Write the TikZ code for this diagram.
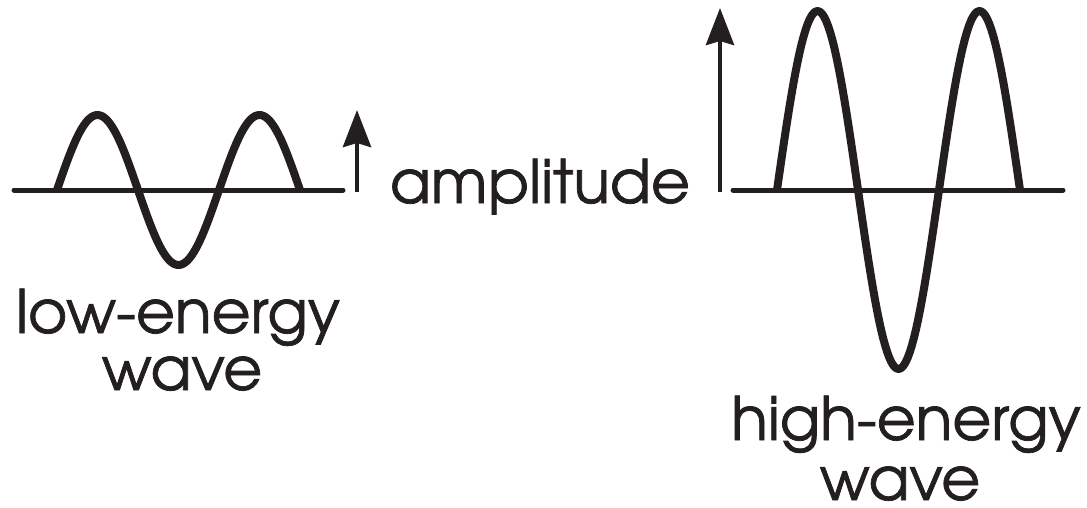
\documentclass[tikz,border=0pt]{standalone}
\usepackage{fontspec}
\setmainfont{texgyreadventor-regular.otf}[FakeBold=1.2]
\usetikzlibrary{arrows.meta}
\definecolor{ink}{RGB}{35,31,32}
\begin{document}
\begin{tikzpicture}[x=1pt,y=-1pt,color=ink,
  axis/.style={line width=5pt,line cap=round},
  wave/.style={line width=8pt,line cap=butt,line join=round},
  amp/.style={line width=4.5pt,-{Stealth[length=37pt,width=28pt,inset=4pt]}},
  label/.style={anchor=base,inner sep=0pt,text=ink,font=\fontsize{60}{68}\selectfont}]
\useasboundingbox (0,0) rectangle (1087,507);

% low-energy wave
\coordinate (lowstart) at (14,190);
\coordinate (lowend) at (343,190);
\draw[axis] (lowstart) -- (lowend);
\draw[wave] plot[domain=0:540,samples=120] ({57+\x/540*243},{190-75*sin(\x)});
\coordinate (lowfoot) at (357,192);
\coordinate (lowtip) at (357,110);
\draw[amp] (lowfoot) -- (lowtip);

% high-energy wave
\coordinate (highstart) at (733,190);
\coordinate (highend) at (1063,190);
\draw[axis] (highstart) -- (highend);
\draw[wave] plot[domain=0:540,samples=120] ({777+\x/540*243},{190-179*sin(\x)});
\coordinate (highfoot) at (720,192);
\coordinate (hightip) at (720,8);
\draw[amp] (highfoot) -- (hightip);

% labels
\node[label] (amplitude) at (540,203) {amplitude};
\node[label] (lowname) at (178,333) {low-energy};
\node[label] (lowwave) at (182,390) {wave};
\node[label] (highname) at (906,440) {high-energy};
\node[label] (highwave) at (900,500) {wave};
\end{tikzpicture}
\end{document}
